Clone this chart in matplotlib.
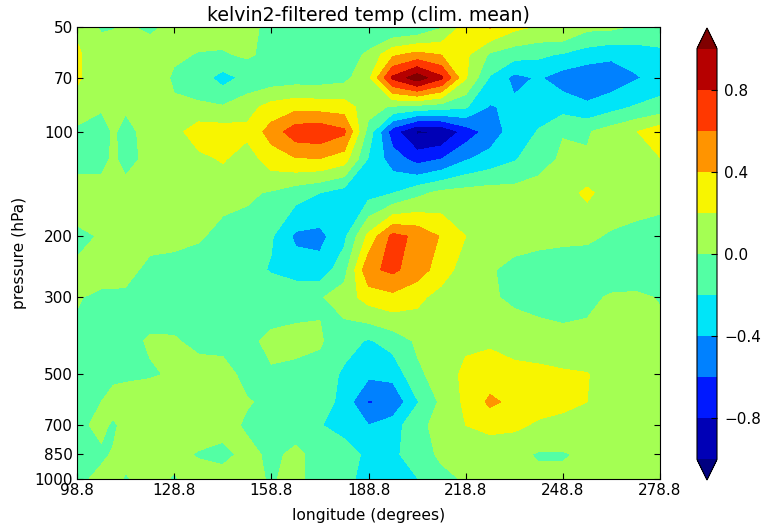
import numpy as np
import matplotlib
matplotlib.use("Agg")
import matplotlib.pyplot as plt

W, H = 763, 525
lons = [98.8, 106.3, 110.0, 113.8, 121.3, 128.8, 136.3, 143.8, 151.3, 158.8, 166.3, 173.8, 181.3,
        188.8, 196.3, 203.8, 211.3, 218.8, 226.3, 233.8, 241.3, 248.8, 256.3, 263.8, 271.3, 278.8]
pressure = [50, 60, 70, 85, 100, 120, 150, 200, 250, 300, 400, 500, 600, 700, 850, 1000]

p50  = [18,-3,-1,2,-3,4,8,8,5,-5,-8,-8,-10,-15,-22,-18,-2,28,42,25,18,21,5,4,-2,-5]
p60  = [22,12,10,10,8,3,-1,-2,3,-6,-8,-10,-9,3,36,46,39,24,-3,-12,-16,-22,-30,-36,-32,-26]
p70  = [22,12,13,14,13,-3,-10,-28,-14,-12,-10,-10,-6,15,84,112,84,22,-22,-46,-38,-50,-55,-52,-42,-33]
p85  = [14,2,4,2,4,3,3,2,12,28,34,32,30,8,-3,-8,-12,-18,-42,-35,-27,-28,-36,-27,-18,-12]
p100 = [-5,-8,2,-5,6,12,32,30,25,48,72,75,64,-8,-72,-103,-100,-72,-52,-30,-19,-1,-2,9,19,32]
p120 = [-6,-6,3,-6,5,6,14,22,10,30,38,39,29,-22,-50,-68,-60,-42,-32,-22,-8,3,2,6,15,19]
p150 = [8,8,8,7,7,7,6,5,3,-2,-12,-20,-30,-28,-21,-6,5,8,10,8,9,12,24,10,8,5]
p200 = [-3,1,3,5,6,6,2,-5,-8,-18,-44,-46,-25,25,66,56,38,20,10,8,5,4,3,-2,-5,-6]
p250 = [2,6,6,6,-5,-8,-9,-10,-12,-22,-30,-32,-8,56,64,50,30,10,2,-6,-8,-10,-10,-10,-10,-10]
p300 = [1,-3,-3,-4,-5,-6,-6,-7,-6,-5,-4,-2,10,28,34,25,12,6,2,-3,-6,-8,-4,2,3,-1]
p400 = [-3,-3,-3,-3,1,1,-3,-4,-2,2,3,2,-12,-22,-12,3,6,16,17,10,8,6,5,5,5,5]
p500 = [-3,-4,-3,-3,-1,1,5,5,-4,-1,-3,-7,-24,-36,-34,-4,8,25,30,28,26,23,21,10,8,7]
p600 = [-4,0,5,8,6,6,6,6,1,-3,-2,-8,-28,-62,-56,-22,4,24,44,35,28,24,20,10,8,7]
p700 = [-3,3,-2,4,4,5,6,5,-2,-5,-6,-19,-28,-40,-30,-5,6,20,26,24,17,15,12,9,8,7]
p850 = [-4,-2,1,3,3,3,-1,-4,4,-3,3,-5,-10,-25,-25,-8,3,6,6,5,-2,-2,4,5,5,5]
p1000 = [-3,3,3,-1,4,-1,5,6,3,-1,3,-5,-12,-30,-34,-21,-5,2,5,5,5,5,5,5,5,5]

rows = [p50, p60, p70, p85, p100, p120, p150, p200, p250, p300, p400, p500, p600, p700, p850, p1000]
levels = np.round(np.arange(-1.0, 1.01, 0.2), 1)
xticks = [98.8, 128.8, 158.8, 188.8, 218.8, 248.8, 278.8]
yticks = [50, 70, 100, 200, 300, 500, 700, 850, 1000]
cbar_ticks = [-0.8, -0.4, 0.0, 0.4, 0.8]

temp = np.array(rows) / 100.0

fig = plt.figure(figsize=(W / 100, H / 100), dpi=100)
ax = fig.add_axes([77 / W, 1 - 479 / H, 583 / W, 452 / H])
cf = ax.contourf(lons, pressure, temp, levels=levels, cmap="jet", extend="both")
ax.set_yscale("log")
ax.set_xlim(98.8, 278.8)
ax.set_ylim(1000, 50)
ax.set_xticks(xticks)
ax.set_xticklabels([f"{t:.1f}" for t in xticks])
ax.set_yticks(yticks)
ax.set_yticklabels([str(t) for t in yticks])
ax.minorticks_off()
ax.tick_params(direction="in", top=True, right=True, length=4, width=0.8, labelsize=11, pad=3)
ax.set_xlabel("longitude (degrees)", fontsize=11.2, labelpad=7)
ax.set_ylabel("pressure (hPa)", fontsize=11.2, labelpad=5)
ax.set_title("kelvin2-filtered temp (clim. mean)", fontsize=13.6, pad=4)

cax = fig.add_axes([697 / W, 1 - 480 / H, 20 / W, 452 / H])
cb = fig.colorbar(cf, cax=cax, ticks=cbar_ticks)
cb.ax.tick_params(direction="in", length=4, width=0.8, labelsize=11, pad=5)
cb.ax.set_yticklabels(["\u22120.8", "\u22120.4", "0.0", "0.4", "0.8"])
fig.savefig("out.png", dpi=100)
